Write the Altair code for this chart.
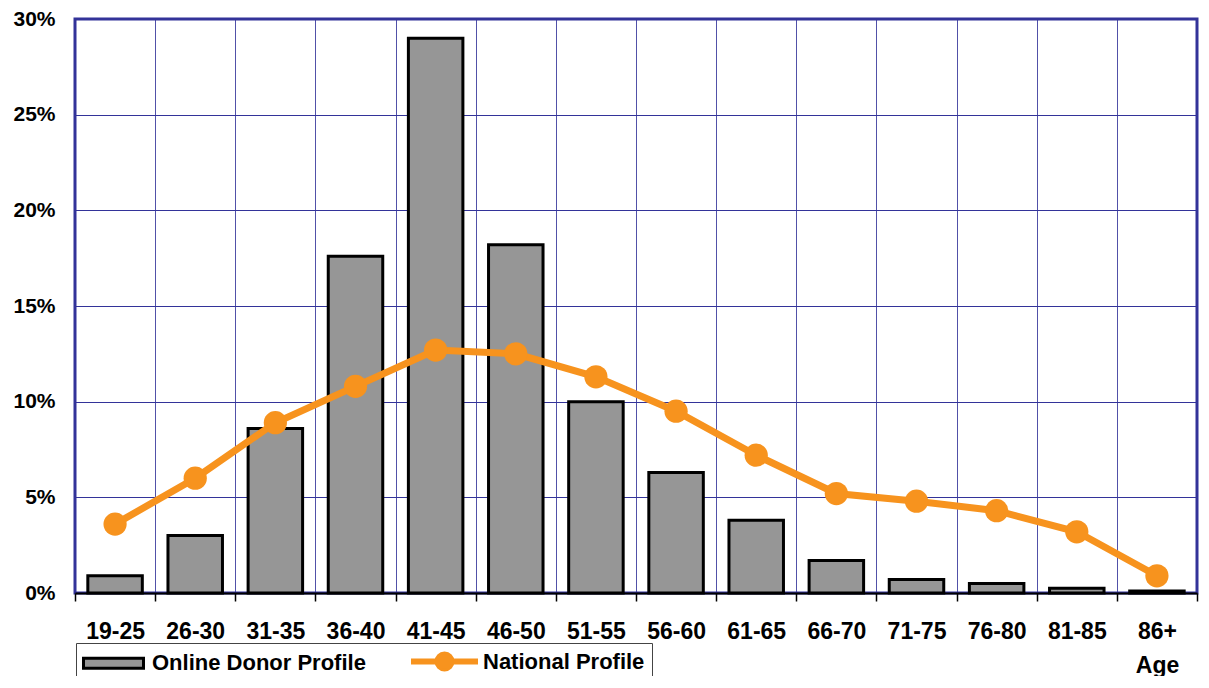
import altair as alt
import pandas as pd

ages = ["19-25", "26-30", "31-35", "36-40", "41-45", "46-50", "51-55",
        "56-60", "61-65", "66-70", "71-75", "76-80", "81-85", "86+"]
online = [0.9, 3.0, 8.6, 17.6, 29.0, 18.2, 10.0, 6.3, 3.8, 1.7, 0.7, 0.5, 0.25, 0.1]
national = [3.6, 6.0, 8.9, 10.8, 12.7, 12.5, 11.3, 9.5, 7.2, 5.2, 4.8, 4.3, 3.2, 0.9]
series_names = ["Online Donor Profile", "National Profile"]
y_ticks = [0, 5, 10, 15, 20, 25, 30]

bars_df = pd.DataFrame({"age": ages, "value": online})
line_df = pd.DataFrame({"age": ages, "value": national})
legend_df = pd.DataFrame({"series": series_names})

FONT = "Liberation Sans"
NAVY = "#333399"
ORANGE = "#F7931E"
GREY = "#969696"

x_enc = alt.X(
    "age:N", sort=ages,
    scale=alt.Scale(paddingInner=0, paddingOuter=0),
    axis=alt.Axis(
        title="Age", labelAngle=0, tickBand="extent", grid=True,
        gridColor=NAVY, gridWidth=1, gridOpacity=0.85,
        tickColor="black", tickSize=8, tickWidth=1.5,
        domainColor="black", domainWidth=2,
        labelFont=FONT, labelFontSize=23, labelFontWeight="bold", labelColor="black",
        labelPadding=19, labelBaseline="top",
        titleFont=FONT, titleFontSize=23, titleFontWeight="bold", titleColor="black",
        titleX=1082, titleY=79, titleAlign="center", titleBaseline="alphabetic",
    ),
)
y_enc = alt.Y(
    "value:Q",
    scale=alt.Scale(domain=[0, 30], nice=False),
    axis=alt.Axis(
        title=None, values=y_ticks, labelExpr="datum.value + '%'",
        grid=True, gridColor=NAVY, gridWidth=1, ticks=False, tickSize=0, domain=False,
        labelFont=FONT, labelFontSize=21, labelFontWeight="bold", labelColor="black",
        labelPadding=20,
    ),
)

bars = alt.Chart(bars_df).mark_bar(
    fill=GREY, stroke="black", strokeWidth=3, width=alt.RelativeBandSize(0.68)
).encode(x=x_enc, y=y_enc)

line = alt.Chart(line_df).mark_line(
    stroke=ORANGE, strokeWidth=7
).encode(x=alt.X("age:N", sort=ages), y="value:Q")

points = alt.Chart(line_df).mark_circle(
    size=540, opacity=1, fill=ORANGE
).encode(x=alt.X("age:N", sort=ages), y="value:Q")

rect_path = "M-3,-0.5H3V0.5H-3Z"
line_path = ("M-3.2,-0.15H3.2V0.15H-3.2Z "
             "M0.85,0 A0.85,0.85 0 1,1 -0.85,0 A0.85,0.85 0 1,1 0.85,0 Z")

legend = alt.Legend(
    title=None, orient="none", legendX=1, legendY=624, direction="horizontal",
    labelFont=FONT, labelFontSize=22, labelFontWeight="bold", labelColor="black",
    labelLimit=500,
    symbolSize=400, symbolStrokeWidth=3, symbolOffset=19, labelOffset=27,
    columnPadding=40, padding=7, strokeColor="#444444", fillColor="white",
)

legend_layer = alt.Chart(legend_df).transform_filter("false").mark_point(
    filled=True, opacity=1
).encode(
    fill=alt.Fill("series:N", scale=alt.Scale(domain=series_names, range=[GREY, ORANGE]), legend=legend),
    stroke=alt.Stroke("series:N", scale=alt.Scale(domain=series_names, range=["black", ORANGE]), legend=legend),
    shape=alt.Shape("series:N", scale=alt.Scale(domain=series_names, range=[rect_path, line_path]), legend=legend),
)

chart = alt.layer(bars, line, points, legend_layer).properties(
    width=1122, height=574,
    padding={"left": 67, "top": 11, "right": 4, "bottom": 83},
    autosize=alt.AutoSizeParams(type="none"),
).configure_view(
    stroke=NAVY, strokeWidth=3
)

chart.save("out.html", embed_options={"renderer": "svg", "actions": False})
